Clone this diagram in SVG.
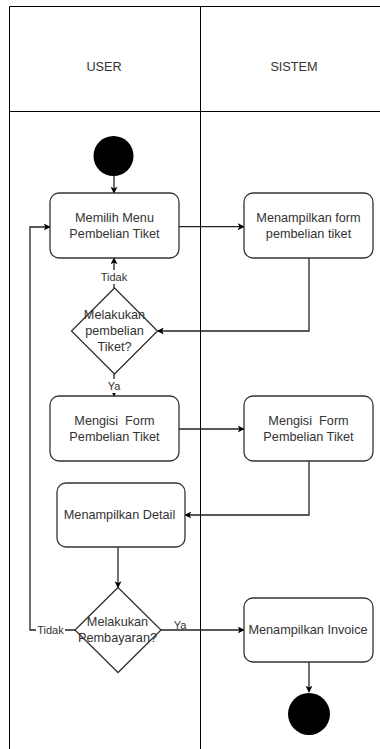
<svg xmlns="http://www.w3.org/2000/svg" width="380" height="749" viewBox="0 0 380 749">
<defs>
<marker id="arr" viewBox="0 0 10 10" refX="9" refY="5" markerWidth="7" markerHeight="7" orient="auto" markerUnits="userSpaceOnUse">
<path d="M0,0 L10,5 L0,10 L2.5,5 z" fill="#000"/>
</marker>
<style>
.lane{stroke:#000;stroke-width:1;fill:none}
.node{fill:#fff;stroke:#333;stroke-width:1.3}
.t{font-family:"Liberation Sans",Arial,sans-serif;font-size:12.7px;fill:#333;text-anchor:middle;dominant-baseline:central;white-space:pre}
.lbl{font-family:"Liberation Sans",Arial,sans-serif;font-size:11px;fill:#333;text-anchor:middle;dominant-baseline:central}
.c{stroke:#222;stroke-width:1.3;fill:none;marker-end:url(#arr)}
.cn{stroke:#222;stroke-width:1.3;fill:none}
.dot{fill:#000}
</style>
</defs>
<rect width="380" height="749" fill="#fff"/>
<g id="pool">
<path class="lane" d="M9.5,749 V6.5 H380 M9.5,111.5 H380 M200.5,6.5 V749"/>
<text class="t" x="104" y="67">USER</text>
<text class="t" x="294" y="67">SISTEM</text>
</g>
<g id="connectors">
<line class="c" x1="114" y1="176" x2="114" y2="193"/>
<line class="c" x1="179" y1="226.7" x2="244" y2="226.7"/>
<path class="c" d="M309,258 V331 H157.5"/>
<line class="c" x1="114" y1="288" x2="114" y2="258"/>
<line class="c" x1="114" y1="374" x2="114" y2="396"/>
<line class="c" x1="179" y1="429" x2="244" y2="429"/>
<path class="c" d="M309,461 V515 H185"/>
<line class="c" x1="118" y1="547" x2="118" y2="587.5"/>
<path class="c" d="M75,630 H30 V227 H50"/>
<line class="c" x1="161" y1="630" x2="244" y2="630"/>
<line class="c" x1="309" y1="662" x2="309" y2="692"/>
<rect x="99" y="270" width="30" height="14" fill="#fff"/>
<text class="lbl" x="114" y="277">Tidak</text>
<rect x="106" y="379" width="16" height="14" fill="#fff"/>
<text class="lbl" x="114" y="386">Ya</text>
<rect x="36" y="623" width="29" height="14" fill="#fff"/>
<text class="lbl" x="50.5" y="630">Tidak</text>
<rect x="172" y="619" width="16" height="10" fill="#fff"/>
<text class="lbl" x="180" y="625">Ya</text>
</g>
<g id="start"><circle class="dot" cx="113.5" cy="156" r="20"/></g>
<g id="memilih-menu">
<rect class="node" x="50" y="193" width="129" height="65" rx="9"/>
<text class="t" x="114.5" y="218">Memilih Menu</text>
<text class="t" x="114.5" y="234">Pembelian Tiket</text>
</g>
<g id="tampil-form">
<rect class="node" x="244" y="193" width="129" height="65" rx="9"/>
<text class="t" x="308.5" y="218">Menampilkan form</text>
<text class="t" x="308.5" y="234">pembelian tiket</text>
</g>
<g id="decision-beli">
<polygon class="node" points="114.5,288 157.5,331 114.5,374 71.5,331"/>
<text class="t" x="114.5" y="315">Melakukan</text>
<text class="t" x="114.5" y="331">pembelian</text>
<text class="t" x="114.5" y="347">Tiket?</text>
</g>
<g id="isi-form-user">
<rect class="node" x="50" y="396" width="129" height="65" rx="9"/>
<text class="t" x="114.5" y="420.5">Mengisi  Form</text>
<text class="t" x="114.5" y="436.5">Pembelian Tiket</text>
</g>
<g id="isi-form-sistem">
<rect class="node" x="244" y="396" width="129" height="65" rx="9"/>
<text class="t" x="308.5" y="420.5">Mengisi  Form</text>
<text class="t" x="308.5" y="436.5">Pembelian Tiket</text>
</g>
<g id="detail">
<rect class="node" x="57" y="483" width="128" height="64" rx="9"/>
<text class="t" x="119.5" y="515">Menampilkan Detail</text>
</g>
<g id="decision-bayar">
<polygon class="node" points="118,587.5 161,630 118,672.5 75,630"/>
<text class="t" x="117.5" y="622">Melakukan</text>
<text class="t" x="117.5" y="638">Pembayaran?</text>
</g>
<g id="invoice">
<rect class="node" x="244" y="598" width="129" height="64" rx="9"/>
<text class="t" x="308" y="630">Menampilkan Invoice</text>
</g>
<g id="end"><circle class="dot" cx="309" cy="714" r="21"/></g>
</svg>
